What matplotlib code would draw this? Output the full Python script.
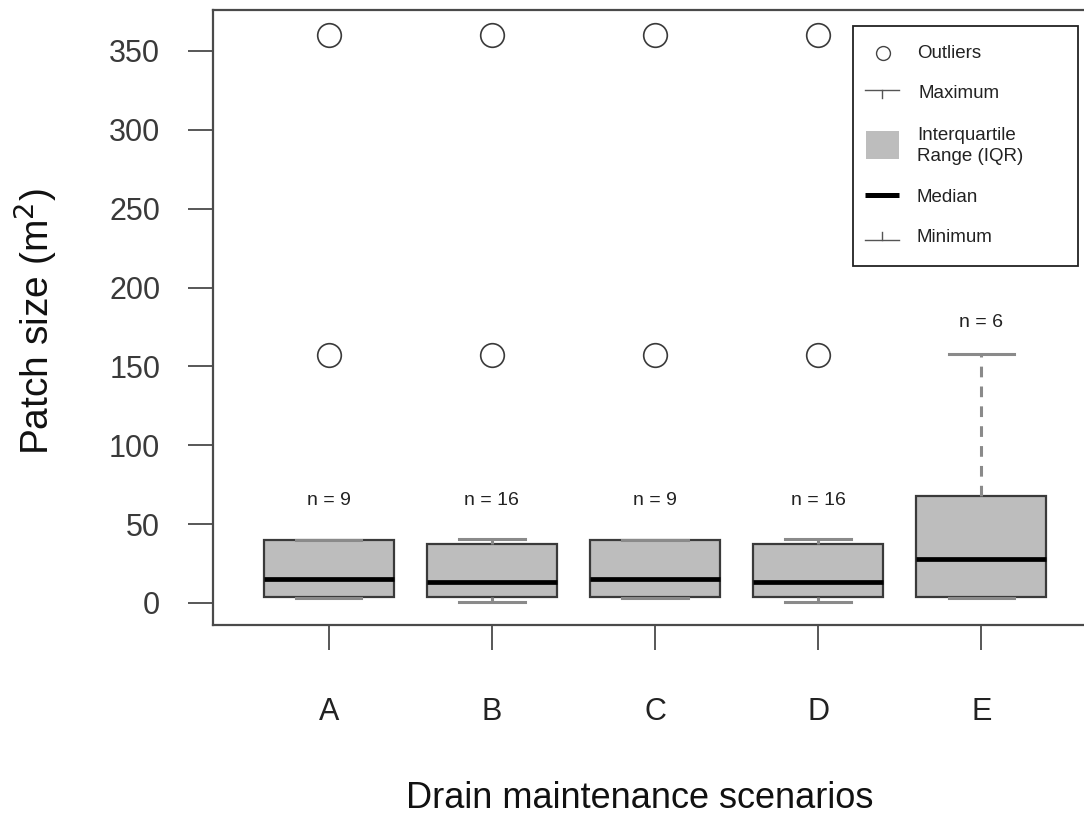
import matplotlib
matplotlib.use("Agg")
import matplotlib.pyplot as plt
from matplotlib.patches import Rectangle

plt.rcParams['font.family'] = ['Liberation Sans', 'DejaVu Sans']

# ---- data ----
categories = ['A', 'B', 'C', 'D', 'E']
whislo = [3, 0.5, 3, 0.5, 3]
q1 = [4, 4, 4, 4, 4]
med = [15, 13, 15, 13, 28]
q3 = [40, 37.5, 40, 37.5, 68]
whishi = [40, 40.5, 40, 40.5, 158]
fliers = [[157, 360], [157, 360], [157, 360], [157, 360], []]
n_counts = [9, 16, 9, 16, 6]
n_label_y = [65, 65, 65, 65, 178]
yticks = [0, 50, 100, 150, 200, 250, 300, 350]

W, H = 1084, 814
fig = plt.figure(figsize=(W / 100, H / 100), dpi=100)

def fx(px):
    return px / W

def fy(py):
    return 1 - py / H

# axes extends beyond right edge as in the reference
left, right, top, bottom = 213, 1097, 10, 625
ax = fig.add_axes([fx(left), fy(bottom), fx(right - left), (bottom - top) / H])

positions = list(range(1, len(categories) + 1))
stats = []
for i in range(len(categories)):
    stats.append(dict(whislo=whislo[i], q1=q1[i], med=med[i], q3=q3[i],
                      whishi=whishi[i], fliers=fliers[i], label=categories[i]))

frame_col = '#4a4a4a'
ax.bxp(stats, positions=positions, widths=0.8, patch_artist=True,
       boxprops=dict(facecolor='#bdbdbd', edgecolor='#3a3a3a', linewidth=1.6),
       medianprops=dict(color='black', linewidth=3.4, solid_capstyle='butt'),
       whiskerprops=dict(color='#8a8a8a', linewidth=2.2, linestyle=(0, (3.5, 3))),
       capprops=dict(color='#8a8a8a', linewidth=2.2),
       flierprops=dict(marker='o', markersize=17, markerfacecolor='white',
                       markeredgecolor='#3a3a3a', markeredgewidth=1.2, linestyle='none'))

for i, p in enumerate(positions):
    ax.text(p, n_label_y[i], f"n = {n_counts[i]}", ha='center', va='center',
            fontsize=14, color='#222222')

ax.set_xlim(0.29, 5.71)
ax.set_ylim(-14, 376)
ax.set_yticks(yticks)
ax.set_yticklabels([str(v) for v in yticks])
ax.set_xticks(positions)
ax.set_xticklabels(categories)

for s in ax.spines.values():
    s.set_color(frame_col)
    s.set_linewidth(1.6)

ax.tick_params(axis='y', length=18, width=1.3, color=frame_col, pad=20,
               labelsize=22, labelcolor='#3a3a3a')
ax.tick_params(axis='x', length=18, width=1.3, color=frame_col, pad=34,
               labelsize=22, labelcolor='#222222')

fig.text(fx(35), fy(322), 'Patch size (m$^2$)', rotation=90, ha='center',
         va='center', fontsize=28, color='#111111')
fig.text(fx(640), fy(798), 'Drain maintenance scenarios', ha='center',
         va='center', fontsize=26, color='#111111')

# ---- legend (drawn manually) ----
lax = fig.add_axes([0, 0, 1, 1], facecolor='none')
lax.set_xlim(0, W)
lax.set_ylim(H, 0)
lax.axis('off')
lax.add_patch(Rectangle((853, 26), 225, 240, facecolor='white',
                        edgecolor='#222222', linewidth=1.3))
lcol = '#555555'
lax.plot([883], [53], marker='o', markersize=10, markerfacecolor='white',
         markeredgecolor='#444444', markeredgewidth=1.0)
lax.plot([865, 899], [90, 90], color=lcol, lw=1.0)
lax.plot([882, 882], [90, 98], color=lcol, lw=1.0)
lax.add_patch(Rectangle((866, 131), 33, 28, facecolor='#bdbdbd', edgecolor='none'))
lax.plot([865, 899], [195, 195], color='black', lw=3.6, solid_capstyle='butt')
lax.plot([865, 899], [240, 240], color=lcol, lw=1.0)
lax.plot([882, 882], [232, 240], color=lcol, lw=1.0)
tkw = dict(fontsize=13.5, color='#222222', va='center', ha='left')
lax.text(917, 53, 'Outliers', **tkw)
lax.text(918, 93, 'Maximum', **tkw)
lax.text(917, 146, 'Interquartile\nRange (IQR)', linespacing=1.3, **tkw)
lax.text(917, 197, 'Median', **tkw)
lax.text(917, 238, 'Minimum', **tkw)

fig.savefig('out.png', dpi=100)
